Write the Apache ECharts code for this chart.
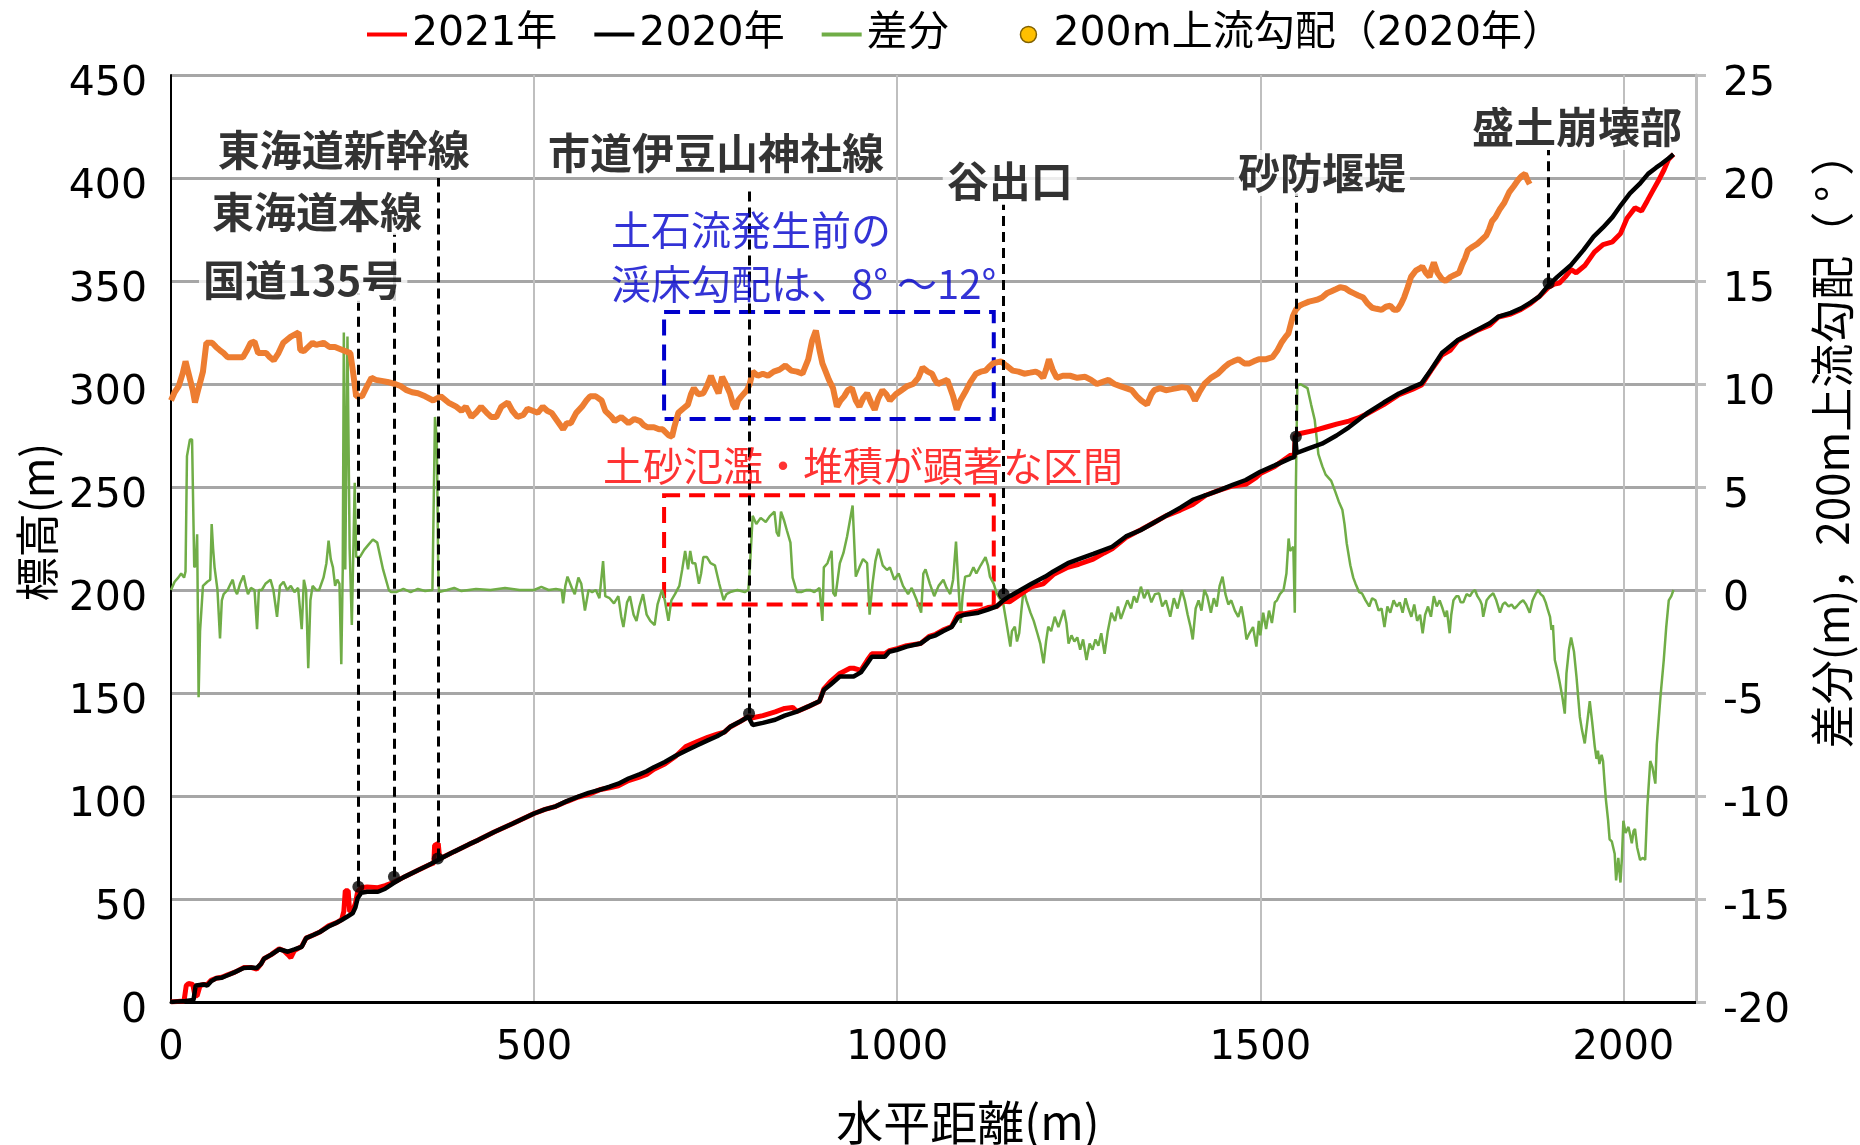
<!DOCTYPE html>
<html><head><meta charset="utf-8">
<script src="https://cdn.jsdelivr.net/npm/echarts@6/dist/echarts.min.js"></script>
<style>html,body{margin:0;padding:0;background:#fff}#c{width:1860px;height:1145px}</style>
</head><body><div id="c"></div>
<script>
// ---------------- data ----------------
const legendNames = ['2021年', '2020年', '差分', '200m上流勾配（2020年）'];
const axisTitles = { x: '水平距離(m)', yLeft: '標高(m)', yRight: '差分(m)，200m上流勾配（ ° ）' };
const xRange = [0, 2100, 500];
const yLeftRange = [0, 450, 50];
const yRightRange = [-20, 25, 5];

// 2020 elevation profile [distance m, elevation m]
const profile2020 = [[0,0],[10,0.3],[20,0.5],[31,1],[34,8],[45,8.5],[50,8],[55,10],[62,11.5],[70,11.8],[78,13],[88,14.5],[100,16.5],[110,16.8],[118,16.5],[124,18.5],[128,21],[138,23],[149,25.6],[155,25],[161,24.4],[170,25.5],[180,26.8],[186,31],[196,32.5],[205,34],[217,36.6],[228,38.5],[235,39.8],[243,41.5],[250,43],[254,46],[257,50.4],[262,53],[270,53.5],[285,53.5],[295,55],[306,57.6],[320,60.5],[340,64],[355,66.5],[368,69],[390,73],[410,76.5],[423,78.6],[445,82.5],[470,86.5],[500,91.5],[515,93.5],[530,95],[545,97.5],[561,99.7],[575,101.5],[590,103],[604,104.5],[616,106],[630,108.5],[645,110.5],[655,112],[665,114],[680,116.5],[695,119.5],[709,122],[724,124.5],[739,127],[752,129],[762,131],[770,133.6],[783,136],[795,138.5],[801,134.5],[815,135.5],[832,137],[845,139],[862,141],[878,143.5],[893,146],[899,151.5],[908,154],[921,158],[940,158],[950,160],[959,164.5],[965,167.6],[983,167.6],[989,170],[1000,171],[1013,172.5],[1032,174],[1044,177],[1053,178],[1063,180],[1075,182],[1084,187],[1093,188],[1112,189],[1125,190.5],[1137,192],[1146,195],[1155,197],[1170,200],[1185,203],[1204,206.5],[1215,209],[1235,213],[1250,215],[1270,217.5],[1296,221],[1315,226],[1335,229],[1352,232.4],[1370,236],[1390,240],[1407,243.7],[1425,246],[1444,248.5],[1462,251],[1480,253.4],[1500,257.4],[1520,260.5],[1542,264],[1547,264.5],[1548,275],[1550,266.5],[1565,268.5],[1585,271],[1605,275],[1622,279],[1635,282.5],[1647,285.8],[1670,291],[1691,295.4],[1710,298.5],[1722,300.3],[1735,306.8],[1750,315],[1762,318.5],[1772,321.4],[1797,326],[1816,329.5],[1828,332.7],[1845,334.5],[1859,336.7],[1872,339.5],[1884,342.4],[1897,348],[1909,352],[1928,357.8],[1945,365],[1959,371.5],[1972,376],[1985,381],[1997,387],[2009,392.5],[2022,397],[2034,402],[2045,405],[2053,407],[2062,409.5],[2069,411.5]];

// 2021 elevation profile [distance m, elevation m]
const profile2021 = [[0,0],[18,0.5],[21,8],[24,9],[30,8.5],[33,3],[36,3],[38,3.5],[40,8],[45,8.5],[50,8.5],[55,10.5],[62,11.5],[70,12],[78,13.2],[88,14.5],[100,16.7],[110,16.8],[118,16],[124,18.5],[128,21],[138,23],[149,25.8],[155,25],[161,23],[165,21.5],[170,25],[180,27],[186,31],[196,32.5],[205,34],[217,37],[228,38.5],[235,40],[238,44],[240,54],[244,54],[246,44],[250,44],[254,48],[257,53.5],[262,55.5],[270,55.8],[285,55.5],[295,56.5],[306,58],[320,60.5],[340,64],[355,66.5],[362,67.5],[363,76],[368,77],[370,69.5],[390,73],[410,76.5],[423,78.6],[445,82.5],[470,86.5],[500,91.5],[515,93.5],[530,95],[545,97.3],[561,99.5],[575,100.8],[590,103],[604,104],[616,105],[630,107.5],[645,109.2],[655,110.5],[665,113],[680,115.5],[695,119.3],[709,124],[724,126.3],[739,128.5],[752,130],[762,131],[770,133.5],[783,136],[795,138.5],[801,138],[815,139],[832,140.8],[845,142.5],[856,143],[862,141],[878,143.5],[893,146],[899,152],[908,155.5],[921,159.5],[935,162],[940,162],[950,161],[959,166],[965,169],[983,169],[989,170.5],[1000,171.5],[1013,173],[1032,174],[1044,177.5],[1053,178.5],[1063,180.5],[1075,182.3],[1084,188.5],[1093,188.5],[1112,189.8],[1125,191.5],[1137,192],[1146,194.5],[1155,194.3],[1170,198],[1185,201.5],[1201,203],[1215,207.5],[1235,211],[1250,212.5],[1270,215],[1285,218],[1296,220],[1315,225.5],[1335,229.2],[1352,232.4],[1370,236],[1390,238.8],[1407,241.5],[1425,246],[1444,248.5],[1462,250.5],[1480,251.3],[1494,254.5],[1500,256.5],[1520,260],[1542,265.5],[1547,265],[1548,275],[1555,276],[1575,277.5],[1590,279],[1605,280.5],[1622,282],[1635,283.5],[1647,285.5],[1670,290],[1691,294.8],[1710,297.5],[1722,299.5],[1735,306.5],[1750,314],[1762,316.5],[1772,321],[1797,325.7],[1816,328.5],[1828,332.5],[1845,334],[1859,336.2],[1872,339],[1884,342.4],[1897,347],[1905,348.5],[1912,349],[1920,352],[1928,355.5],[1935,354],[1947,357.5],[1960,364],[1972,367.7],[1985,369],[1996,373],[2005,380.5],[2016,385.5],[2025,384],[2033,389],[2040,393.5],[2048,398.5],[2056,404],[2062,409],[2069,411.5]];

// difference 2021-2020 [distance m, m]  (right axis)
const diffValues = [[0,0],[5,0.4],[10,0.6],[14,0.8],[18,0.6],[20,0.9],[22,6.5],[26,7.3],[29,7.3],[32,1.1],[34,1.2],[36,2.7],[38,-5.2],[40,-2],[44,0.2],[50,0.4],[54,0.5],[56,3.2],[58,2],[60,1.1],[64,0],[67.5,-2.35],[70,-0.5],[72.5,-0.2],[78,0],[82,0.3],[85,0.5],[88,0],[91,-0.2],[95,0.3],[100,0.7],[103,0.2],[106,-0.2],[110,0.1],[115,0],[118.5,-1.9],[121,0],[125,0],[130,0.3],[137,0.5],[141,0],[146,-1.3],[150,0.2],[155,0.4],[160,0],[165,0.2],[170,-0.1],[175,0.1],[180,-1.9],[183,0.5],[186,0],[189,-3.8],[192,-0.5],[195,0.2],[200,0],[204,0],[210,0.6],[214,1.3],[217,2.4],[220,1.5],[223,1.1],[226,0.2],[229,0.5],[232,0.3],[234.5,-3.6],[236.5,1],[238,12.5],[240,1],[243,12.3],[246,2],[249,-1.7],[251,-1.7],[253,5.2],[255,1.6],[260,1.6],[266,1.95],[272,2.2],[278,2.45],[284,2.3],[292,1],[300,0],[303,-0.1],[310,-0.1],[320,0.05],[330,-0.1],[340,0.05],[350,-0.05],[360,0],[362,0],[363.5,8.4],[366,7.3],[368,1],[369,-0.1],[380,0],[390,0.1],[400,-0.05],[420,0.05],[440,0],[460,0.1],[480,0],[500,0],[510,0.15],[520,0],[530,0.05],[538,0],[540,-0.65],[543,0.2],[546,0.65],[552,0.1],[556,-0.2],[561,0.6],[565,0.3],[570,-1],[575,0],[580,-0.1],[585,0],[590,-0.4],[595,1.4],[598,-0.3],[604,-0.4],[610,-0.65],[616,-0.3],[620,-1.3],[623,-1.8],[628,-0.6],[632,-0.3],[637,-1.2],[641,-1.5],[645,-0.8],[650,-0.2],[655,-1.2],[660,-1.5],[666,-1.7],[670,-0.7],[676,0],[680,-0.5],[685,-1.5],[689,-0.5],[694,-0.2],[700,0.2],[704,1],[708,1.9],[712,1],[715,1.9],[718,1.3],[722,1.3],[727,0.3],[730,0.8],[733,1.6],[738,1.6],[743,1.3],[749,1.2],[755,0.3],[761,-0.5],[765,-0.2],[770,-0.1],[780,0],[790,-0.1],[795,0],[797,1],[801,3.6],[806,3.2],[812,3.5],[819,3.3],[825,3.6],[831,3.8],[834,2.8],[837,2.6],[840,3.8],[844,3.4],[848,2.9],[853,2.3],[856,0.6],[862,-0.1],[868,-0.1],[875,0],[880,0],[886,-0.1],[893,0.1],[897,-1.5],[899,1.1],[904,1.3],[909.6,1.9],[912,-0.15],[915,-0.3],[921,1.3],[926,1.8],[931,2.6],[938.6,4.1],[943,0.65],[948,1.1],[953,1.5],[958.6,1.3],[962,-1.2],[966,0.3],[970,1.4],[974,2],[980,1.2],[986,0.97],[990,1.1],[996,0.5],[1002,0.8],[1008,0.2],[1015,-0.2],[1020,0.1],[1027,-0.5],[1033,-1.1],[1036,0.8],[1039,1.0],[1045,0.3],[1051,-0.3],[1057,0.2],[1063.6,0.5],[1068,0.1],[1073,-0.2],[1077,0.5],[1081,2.35],[1084,0.4],[1087.5,-1.6],[1090,-0.3],[1093.6,0.65],[1100,0.7],[1105,1.1],[1109,0.8],[1115,1.2],[1121.6,1.6],[1125,1.2],[1127.7,0.65],[1133,0.3],[1137,-0.16],[1141,-0.4],[1146,-0.65],[1150,-1.5],[1155.8,-2.75],[1158,-2],[1162,-1.78],[1165,-2.5],[1168,-2.1],[1171,-1],[1174,0],[1178,-0.5],[1183.5,-1.1],[1188,-1.5],[1193,-2.1],[1197,-2.6],[1201.6,-3.56],[1205,-2.5],[1208,-1.78],[1212,-2],[1217,-1.3],[1222,-1.8],[1229.6,-0.97],[1233,-1.6],[1236,-2.6],[1240,-2.2],[1244,-2.5],[1248,-2.3],[1252,-2.9],[1256,-2.4],[1260.7,-3.4],[1265,-2.6],[1269,-2.9],[1273,-2.4],[1277,-2.7],[1281,-2.1],[1285.6,-3.1],[1290,-2],[1295,-1.1],[1300,-1.5],[1304,-0.8],[1308,-1.4],[1312,-1],[1317,-0.5],[1322,-0.9],[1326,-0.3],[1330,-0.6],[1335.6,0.16],[1340,-0.4],[1345,0],[1350,-0.6],[1355,-0.2],[1360.7,-0.16],[1365,-0.8],[1370,-0.5],[1376,-1.3],[1381,-0.4],[1386,-0.9],[1392,0],[1396,-0.5],[1400,-1.2],[1404,-1.8],[1407,-2.4],[1411,-0.9],[1415,-0.5],[1419,-1],[1423,0],[1427,-0.3],[1432,-1.1],[1436,-0.4],[1440,-0.8],[1444,0.2],[1448,0.65],[1452,-0.2],[1456,-0.7],[1460,-0.5],[1465,-1],[1469.7,-1.3],[1474,-0.8],[1478,-1.6],[1481,-2.4],[1485,-2.1],[1490,-1.8],[1494.6,-2.75],[1498,-1.5],[1500,-2.2],[1504,-1.1],[1508,-1.9],[1512,-1],[1516,-1.6],[1520,-0.6],[1523,-0.5],[1527,-0.2],[1532,0],[1536,0.8],[1539,2.5],[1541,1.9],[1545.5,2.1],[1547.5,-1.1],[1549,5],[1551,9.9],[1555,10],[1560,9.9],[1565,9.8],[1570,9],[1575,8.25],[1580,6.6],[1585.5,6.0],[1590,5.6],[1597.7,5.3],[1603,4.8],[1608,4.3],[1613,3.9],[1616,3.2],[1619,2.27],[1624,1.2],[1628,0.6],[1631,0.32],[1636,-0.1],[1640,-0.16],[1645,-0.5],[1650,-0.8],[1654,-0.4],[1658.6,-0.5],[1663,-1],[1667,-0.9],[1671,-1.8],[1675,-0.8],[1679,-1.1],[1683.6,-0.5],[1688,-0.8],[1692,-0.6],[1696,-1.1],[1700,-0.4],[1704,-0.9],[1708,-1.3],[1712,-0.7],[1716,-1.5],[1720,-1.2],[1723.6,-2.1],[1727,-1.2],[1731,-0.8],[1735,-1.3],[1739,-0.3],[1743,-0.8],[1747,-0.5],[1751,-0.9],[1754.6,-1.3],[1757,-1.0],[1760.8,-2.1],[1763,-1.2],[1766,-0.5],[1770,-0.3],[1773,-0.3],[1776,-0.6],[1779.6,-0.6],[1784,-0.2],[1788.8,-0.3],[1792,-0.1],[1795.7,0],[1799,-0.3],[1802.6,-0.5],[1805,-0.7],[1807,-1.3],[1810,-0.8],[1811.7,-0.5],[1816,-0.3],[1820.8,-0.16],[1825,-0.5],[1830,-1.1],[1834,-0.7],[1837,-0.6],[1842,-0.8],[1846,-0.7],[1850,-0.9],[1853,-0.8],[1858,-0.6],[1862,-0.5],[1866,-0.7],[1871,-1.1],[1875,-0.5],[1879,-0.2],[1882.6,0],[1886,-0.2],[1889.5,-0.3],[1893,-0.6],[1896,-0.97],[1899,-1.3],[1901,-1.94],[1903,-1.7],[1905.6,-3.4],[1909,-3.9],[1912.4,-4.5],[1916,-5.2],[1919.3,-6.0],[1921.6,-4.05],[1925,-2.9],[1928,-2.3],[1929.8,-2.27],[1932,-3.0],[1935.4,-4.2],[1938,-5.3],[1940,-6.15],[1943,-6.8],[1946.8,-7.45],[1950,-6.5],[1953.7,-5.4],[1957,-6.4],[1960.6,-7.6],[1963,-8.2],[1965,-7.8],[1967,-8.45],[1970,-8.0],[1972,-8.3],[1974,-9.3],[1976,-10.2],[1979,-11.2],[1981,-12.1],[1984,-12.2],[1988,-12.8],[1990,-14.1],[1993,-13],[1996,-14.2],[1998,-13],[2000,-11.2],[2003,-11.8],[2007,-11.5],[2010,-12],[2011.6,-12.3],[2014,-11.7],[2016,-11.6],[2019,-12.5],[2023,-13.1],[2027,-13],[2030,-13.1],[2033,-10.5],[2037,-8.3],[2040,-8.6],[2044,-9.4],[2046,-7.5],[2048,-6.6],[2051,-5.2],[2055.6,-3.4],[2059,-1.8],[2062.5,-0.5],[2066,-0.3],[2069,0]];

// 200 m upstream bed slope, 2020 [distance m, degrees] (right axis)
const slope200 = [[0,9.2],[5,9.6],[10.6,9.9],[16,10.5],[20,11.1],[25,10.4],[30,9.7],[33,9.1],[38,9.8],[44,10.6],[48.7,12.0],[56.6,12.0],[62,11.8],[67,11.65],[72.5,11.5],[78,11.3],[88.6,11.3],[99,11.3],[104,11.6],[109.7,12.0],[115,12.05],[120,11.5],[131,11.5],[136,11.3],[141.5,11.15],[148,11.5],[154.6,12.0],[165,12.3],[175.8,12.5],[178,11.65],[183,11.6],[189,11.8],[195,12],[200,11.9],[210,12.0],[218,11.8],[225.8,11.8],[236,11.65],[247,11.5],[251,10.5],[255,9.4],[263,9.4],[270,9.9],[276,10.3],[282,10.2],[290,10.15],[298,10.1],[308.6,10.0],[316,9.9],[324.4,9.7],[332,9.6],[340,9.55],[350,9.4],[361,9.2],[371.6,9.4],[382,9.1],[392.7,8.9],[400,8.7],[406,8.9],[413.7,8.4],[420,8.6],[427,8.9],[434.8,8.6],[441,8.4],[448,8.4],[455,8.9],[463.8,9.1],[470,8.7],[477,8.4],[485,8.5],[491,8.8],[498,8.7],[505,8.6],[512,8.9],[518,8.7],[524,8.6],[532,8.2],[540,7.8],[545,8.1],[550.6,8.1],[558,8.6],[566,8.9],[572,9.2],[577,9.4],[585,9.4],[593,9.2],[598,8.7],[606.6,8.4],[611,8.2],[620,8.4],[630,8.1],[638,8.3],[645.8,8.2],[651,8.0],[656,7.9],[665,7.9],[672,7.8],[677,7.8],[685.5,7.5],[690,7.45],[693,7.9],[698.6,8.6],[705,8.8],[711.8,9.0],[716,9.5],[720,9.8],[726,9.5],[733,9.55],[738,9.9],[743.5,10.4],[748,10.0],[754,9.55],[759,10.35],[764,10.0],[769.7,9.55],[774,9.0],[777.6,8.8],[781,9.2],[785.5,9.4],[793,9.7],[797,10.0],[801,10.6],[808,10.4],[815,10.5],[822,10.4],[830,10.6],[838,10.7],[846,10.9],[854,10.65],[862,10.6],[869.6,10.5],[877.5,11.2],[882.8,12.1],[888,12.6],[893,11.65],[897,11.0],[901,10.65],[906,10.2],[911.6,9.8],[917,8.9],[922,9.2],[927,9.4],[932,9.7],[937.6,9.8],[943,9.2],[948,8.9],[953,9.3],[958.6,9.55],[964,9.1],[969,8.75],[974,9.3],[979.7,9.7],[985,9.5],[990,9.2],[998,9.5],[1006,9.7],[1014,9.9],[1022,10.0],[1029,10.3],[1035,10.8],[1042,10.6],[1048,10.5],[1052,10.2],[1056,10.0],[1062,10.1],[1069,10.2],[1073,9.8],[1077,9.4],[1082,8.75],[1087,9.2],[1095,9.7],[1101,10.1],[1108.6,10.5],[1115,10.6],[1121.8,10.65],[1127,10.85],[1132,11.0],[1137,11.05],[1143,11.1],[1150,10.9],[1159,10.65],[1167,10.6],[1175,10.5],[1183,10.55],[1190.7,10.6],[1196,10.5],[1201,10.3],[1205,10.7],[1209,11.2],[1214,10.7],[1219.8,10.3],[1228,10.4],[1238,10.4],[1248,10.3],[1259,10.35],[1267,10.2],[1275,10.0],[1283,10.1],[1291,10.2],[1299,10.0],[1307,9.9],[1315,9.8],[1323,9.7],[1330,9.4],[1336,9.2],[1344,9.0],[1350,9.5],[1354,9.7],[1362,9.8],[1370,9.7],[1378,9.75],[1385.6,9.8],[1392,9.85],[1401,9.8],[1406,9.5],[1410,9.2],[1416,9.6],[1423,10.0],[1432,10.3],[1441.6,10.5],[1450,10.8],[1457,11.0],[1463,11.1],[1470,11.2],[1478,11.0],[1485,11.0],[1491,11.1],[1498,11.2],[1507,11.2],[1516.7,11.3],[1523,11.6],[1529,12.0],[1535,12.3],[1538.7,12.45],[1542,12.9],[1545,13.3],[1549,13.6],[1554,13.8],[1560,13.9],[1567,14.0],[1573,14.05],[1579,14.1],[1585,14.2],[1591.6,14.4],[1598,14.5],[1604,14.6],[1610,14.7],[1617,14.65],[1623,14.5],[1629,14.4],[1635,14.3],[1641.7,14.2],[1648,13.9],[1654,13.7],[1660,13.65],[1667,13.6],[1673,13.75],[1679,13.8],[1684,13.6],[1689,13.6],[1694,13.9],[1698,14.2],[1703,14.7],[1707.6,15.2],[1714,15.5],[1719,15.6],[1723,15.7],[1728,15.4],[1733,15.2],[1736,15.6],[1739,15.9],[1744,15.4],[1750,15.1],[1755,15.0],[1762,15.2],[1768,15.3],[1773.7,15.4],[1778,15.8],[1782,16.1],[1786,16.5],[1792,16.65],[1798.7,16.8],[1805,17.0],[1811,17.2],[1815,17.5],[1819,17.9],[1823.8,18.1],[1830,18.5],[1836,18.8],[1842.6,19.3],[1849,19.6],[1855,19.9],[1860,20.1],[1864.6,20.2],[1868,19.9],[1871,19.7]];

// facility points on the 2020 profile [distance, elevation]
const facilityPoints = [[258,56],[307,60.8],[367.4,69.7],[796,140],[1146.7,198],[1549,274.4],[1897,348.9]];
// dashed guides [distance, from elevation, to elevation]
const guideLines = [[258,56,344],[307,60.8,373],[367.4,69.7,400],[796,140,395],[1146.7,198,387],[1549,274.4,392.5],[1897,348.9,413.6]];
// annotation texts anchored in data units (distance, elevation)
const annotations = [
  { text: '東海道新幹線', x: 238, y: 413.6, kind: 'facility' },
  { text: '東海道本線', x: 201, y: 383.5, kind: 'facility' },
  { text: '国道135号', x: 182, y: 350.5, kind: 'facility' },
  { text: '市道伊豆山神社線', x: 750.5, y: 412, kind: 'facility' },
  { text: '谷出口', x: 1155, y: 398.5, kind: 'facility' },
  { text: '砂防堰堤', x: 1585, y: 402.4, kind: 'facility' },
  { text: '盛土崩壊部', x: 1936, y: 424.8, kind: 'facility' },
  { text: '土石流発生前の', x: 606, y: 374.8, kind: 'note' },
  { text: '渓床勾配は、8° ～12°', x: 606, y: 348.5, kind: 'note' },
  { text: '土砂氾濫・堆積が顕著な区間', x: 953, y: 260.2, kind: 'alert' }
];
// dashed boxes on right axis [x0, v0, x1, v1]
const boxes = [
  { area: [679, 13.5, 1133, 8.3], kind: 'note' },
  { area: [679, 4.6, 1133, -0.7], kind: 'alert' }
];

// ---------------- chart ----------------
const JP = '"Noto Sans CJK JP", sans-serif';
const NUM = '"DejaVu Sans", "Noto Sans CJK JP", sans-serif';
const kindColor = { facility: '#000000', note: '#0000CC', alert: '#FF0000' };
const lineIcon = 'path://M0,0M40,16M0,6L40,6L40,10L0,10Z';
const tickRich = { t: { fontSize: 41, fontFamily: NUM, color: '#000', padding: [18, 0, 0, 0] } };

const chart = echarts.init(document.getElementById('c'), null, { renderer: 'canvas' });

const labelData = annotations.map(a => ({
  value: [a.x, a.y],
  label: {
    show: true,
    position: [0, 0],
    formatter: a.text,
    align: a.kind === 'note' ? 'left' : 'center',
    verticalAlign: 'middle',
    fontFamily: JP,
    fontSize: a.kind === 'facility' ? 42 : 40,
    fontWeight: a.kind === 'facility' ? 'bold' : 'normal',
    color: kindColor[a.kind],
    backgroundColor: a.kind === 'facility' ? '#ffffff' : 'transparent',
    padding: a.kind === 'facility' ? [2, 4] : 0
  }
}));

const option = {
  animation: false,
  backgroundColor: '#ffffff',
  grid: { left: 171, right: 164, top: 75, bottom: 143, outerBoundsMode: 'none', containLabel: false },
  legend: {
    left: 362, top: 9, itemWidth: 40, itemHeight: 16, itemGap: 37,
    textStyle: { fontSize: 41, fontFamily: NUM, color: '#000' },
    selectedMode: false,
    formatter: name => (name === legendNames[2] ? name + '\u2002\u2004' : name),
    data: [
      { name: legendNames[0], icon: lineIcon, itemStyle: { color: '#FF0000', borderWidth: 0 } },
      { name: legendNames[1], icon: lineIcon, itemStyle: { color: '#000000', borderWidth: 0 } },
      { name: legendNames[2], icon: lineIcon, itemStyle: { color: '#70AD47', borderWidth: 0 } },
      { name: legendNames[3], icon: 'circle', itemStyle: { color: '#FFC000', borderColor: '#806000', borderWidth: 1.5 } }
    ]
  },
  xAxis: {
    type: 'value', min: xRange[0], max: xRange[1], interval: xRange[2],
    axisLine: { show: true, onZero: false, lineStyle: { color: '#000', width: 3 } },
    axisTick: { show: false },
    axisLabel: { margin: 27, fontSize: 40, fontFamily: NUM, color: '#000', showMaxLabel: false, formatter: v => String(v) },
    splitLine: { show: true, lineStyle: { color: '#BFBFBF', width: 2 } }
  },
  yAxis: [
    {
      type: 'value', min: yLeftRange[0], max: yLeftRange[1], interval: yLeftRange[2],
      axisLine: { show: true, lineStyle: { color: '#000', width: 2 } },
      axisTick: { show: false },
      axisLabel: { margin: 24, formatter: v => '{t|' + v + '}', rich: tickRich },
      splitLine: { show: true, lineStyle: { color: '#A6A6A6', width: 3 } }
    },
    {
      type: 'value', min: yRightRange[0], max: yRightRange[1], interval: yRightRange[2], position: 'right',
      axisLine: { show: true, lineStyle: { color: '#BFBFBF', width: 3 } },
      axisTick: { show: true, inside: false, length: 10, lineStyle: { color: '#BFBFBF', width: 3 } },
      axisLabel: { margin: 27, formatter: v => '{t|' + v + '}', rich: tickRich },
      splitLine: { show: false }
    }
  ],
  graphic: [
    { type: 'text', x: 37, y: 522, rotation: Math.PI / 2, silent: true,
      style: { text: axisTitles.yLeft, fontSize: 44, fontFamily: JP, fill: '#000', align: 'center', verticalAlign: 'middle', textAlign: 'center', textVerticalAlign: 'middle' } },
    { type: 'text', x: 1832, y: 440, rotation: Math.PI / 2, silent: true,
      style: { text: axisTitles.yRight, fontSize: 44, fontFamily: JP, fill: '#000', align: 'center', verticalAlign: 'middle', textAlign: 'center', textVerticalAlign: 'middle' } },
    { type: 'text', x: 968, y: 1122, silent: true,
      style: { text: axisTitles.x, fontSize: 47, fontFamily: JP, fill: '#000', align: 'center', verticalAlign: 'middle', textAlign: 'center', textVerticalAlign: 'middle' } }
  ],
  series: [
    {
      name: legendNames[2], type: 'line', yAxisIndex: 1, data: diffValues,
      symbol: 'none', showSymbol: false, z: 2,
      lineStyle: { color: '#70AD47', width: 2.5 }, itemStyle: { color: '#70AD47' },
      markArea: {
        silent: true,
        data: boxes.map(b => [
          { coord: [b.area[0], b.area[1]], itemStyle: { color: 'rgba(0,0,0,0)', borderColor: kindColor[b.kind], borderWidth: 4, borderType: [16, 9] } },
          { coord: [b.area[2], b.area[3]] }
        ])
      }
    },
    {
      name: legendNames[3], type: 'line', yAxisIndex: 1, data: slope200,
      symbol: 'none', showSymbol: false, z: 3,
      lineStyle: { color: '#ED7D31', width: 6 }, itemStyle: { color: '#ED7D31' }
    },
    {
      name: legendNames[0], type: 'line', yAxisIndex: 0, data: profile2021,
      symbol: 'none', showSymbol: false, z: 4,
      lineStyle: { color: '#FF0000', width: 5 }, itemStyle: { color: '#FF0000' }
    },
    {
      name: legendNames[1], type: 'line', yAxisIndex: 0, data: profile2020,
      symbol: 'none', showSymbol: false, z: 5,
      lineStyle: { color: '#000000', width: 4.5 }, itemStyle: { color: '#000000' }
    },
    {
      name: 'facility', type: 'scatter', yAxisIndex: 0, data: facilityPoints,
      symbol: 'circle', symbolSize: 12, z: 6, itemStyle: { color: '#000' }, silent: true,
      markLine: {
        silent: true, symbol: ['none', 'none'], animation: false,
        label: { show: false },
        lineStyle: { color: '#000', width: 3, type: [10, 6] },
        data: guideLines.map(g => [{ coord: [g[0], g[1]] }, { coord: [g[0], g[2]] }])
      }
    },
    {
      name: 'annotations', type: 'scatter', yAxisIndex: 0, data: labelData,
      symbolSize: 0, z: 10, silent: true
    }
  ]
};
chart.setOption(option);
</script>
</body></html>
